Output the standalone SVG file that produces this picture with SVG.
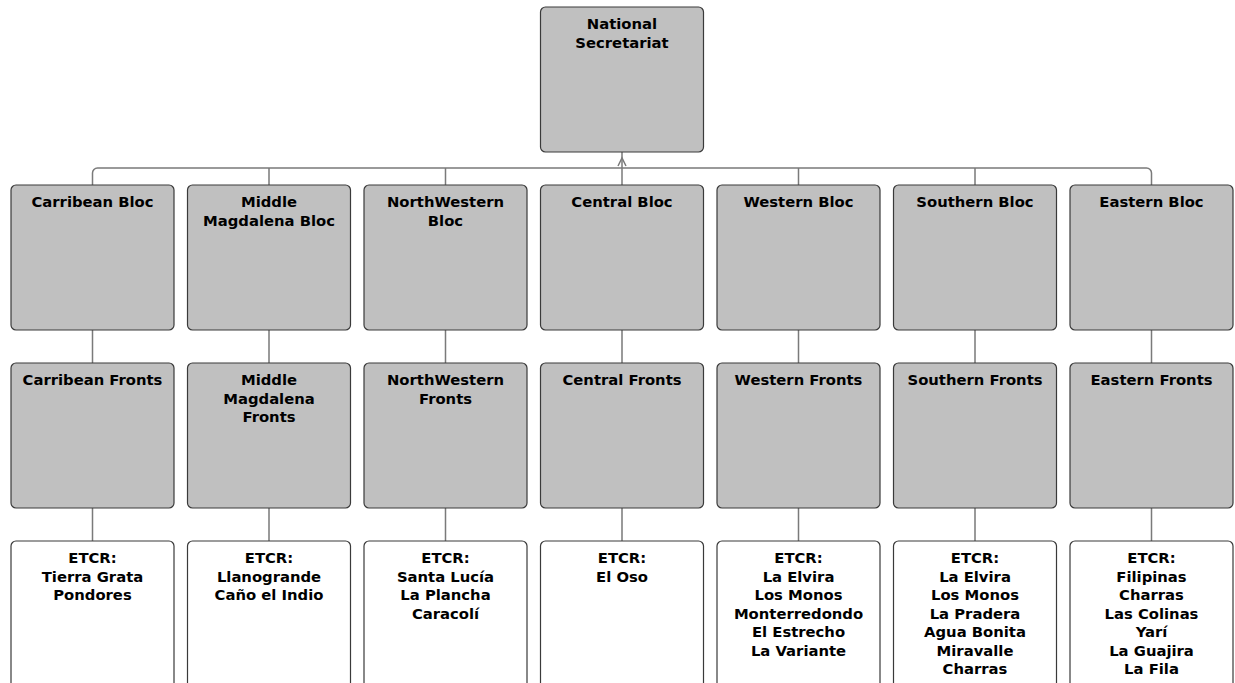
<svg xmlns="http://www.w3.org/2000/svg" width="1235" height="683" viewBox="0 0 1235 683">
<style>
.g{fill:#c0c0c0;stroke:#3a3a3a;stroke-width:1.2}
.w{fill:#ffffff;stroke:#3a3a3a;stroke-width:1.2}
text{font-family:"DejaVu Sans","Liberation Sans",sans-serif;font-weight:bold;font-size:14.8px;fill:#000;text-anchor:middle}
.c{fill:none;stroke:#7a7a7a;stroke-width:1.5}
</style>
<rect width="1235" height="683" fill="#ffffff"/>
<g id="connectors">
<path class="c" d="M622 152V185"/>
<path class="c" d="M92.5 185V173a5 5 0 0 1 5 -5H1146.5a5 5 0 0 1 5 5V185"/>
<path class="c" d="M269 168V185M445.5 168V185M798.5 168V185M975 168V185"/>
<path class="c" d="M618 166L622 158L626 166" stroke-width="1"/>
<path class="c" d="M92.5 330V363M269 330V363M445.5 330V363M622 330V363M798.5 330V363M975 330V363M1151.5 330V363"/>
<path class="c" d="M92.5 508V541M269 508V541M445.5 508V541M622 508V541M798.5 508V541M975 508V541M1151.5 508V541"/>
</g>
<g id="national"><rect class="g" x="540.5" y="7" width="163" height="145" rx="5"/><text x="622" y="29">National</text><text x="622" y="48">Secretariat</text></g>
<g id="bloc1"><rect class="g" x="11" y="185" width="163" height="145" rx="5"/><text x="92.5" y="207">Carribean Bloc</text></g>
<g id="bloc2"><rect class="g" x="187.5" y="185" width="163" height="145" rx="5"/><text x="269" y="207">Middle</text><text x="269" y="225.5">Magdalena Bloc</text></g>
<g id="bloc3"><rect class="g" x="364" y="185" width="163" height="145" rx="5"/><text x="445.5" y="207">NorthWestern</text><text x="445.5" y="225.5">Bloc</text></g>
<g id="bloc4"><rect class="g" x="540.5" y="185" width="163" height="145" rx="5"/><text x="622" y="207">Central Bloc</text></g>
<g id="bloc5"><rect class="g" x="717" y="185" width="163" height="145" rx="5"/><text x="798.5" y="207">Western Bloc</text></g>
<g id="bloc6"><rect class="g" x="893.5" y="185" width="163" height="145" rx="5"/><text x="975" y="207">Southern Bloc</text></g>
<g id="bloc7"><rect class="g" x="1070" y="185" width="163" height="145" rx="5"/><text x="1151.5" y="207">Eastern Bloc</text></g>
<g id="fronts1"><rect class="g" x="11" y="363" width="163" height="145" rx="5"/><text x="92.5" y="385">Carribean Fronts</text></g>
<g id="fronts2"><rect class="g" x="187.5" y="363" width="163" height="145" rx="5"/><text x="269" y="385">Middle</text><text x="269" y="403.5">Magdalena</text><text x="269" y="422">Fronts</text></g>
<g id="fronts3"><rect class="g" x="364" y="363" width="163" height="145" rx="5"/><text x="445.5" y="385">NorthWestern</text><text x="445.5" y="403.5">Fronts</text></g>
<g id="fronts4"><rect class="g" x="540.5" y="363" width="163" height="145" rx="5"/><text x="622" y="385">Central Fronts</text></g>
<g id="fronts5"><rect class="g" x="717" y="363" width="163" height="145" rx="5"/><text x="798.5" y="385">Western Fronts</text></g>
<g id="fronts6"><rect class="g" x="893.5" y="363" width="163" height="145" rx="5"/><text x="975" y="385">Southern Fronts</text></g>
<g id="fronts7"><rect class="g" x="1070" y="363" width="163" height="145" rx="5"/><text x="1151.5" y="385">Eastern Fronts</text></g>
<g id="etcr1"><rect class="w" x="11" y="541" width="163" height="160" rx="5"/><text x="92.5" y="563">ETCR:</text><text x="92.5" y="581.5">Tierra Grata</text><text x="92.5" y="600">Pondores</text></g>
<g id="etcr2"><rect class="w" x="187.5" y="541" width="163" height="160" rx="5"/><text x="269" y="563">ETCR:</text><text x="269" y="581.5">Llanogrande</text><text x="269" y="600">Caño el Indio</text></g>
<g id="etcr3"><rect class="w" x="364" y="541" width="163" height="160" rx="5"/><text x="445.5" y="563">ETCR:</text><text x="445.5" y="581.5">Santa Lucía</text><text x="445.5" y="600">La Plancha</text><text x="445.5" y="618.5">Caracolí</text></g>
<g id="etcr4"><rect class="w" x="540.5" y="541" width="163" height="160" rx="5"/><text x="622" y="563">ETCR:</text><text x="622" y="581.5">El Oso</text></g>
<g id="etcr5"><rect class="w" x="717" y="541" width="163" height="160" rx="5"/><text x="798.5" y="563">ETCR:</text><text x="798.5" y="581.5">La Elvira</text><text x="798.5" y="600">Los Monos</text><text x="798.5" y="618.5">Monterredondo</text><text x="798.5" y="637">El Estrecho</text><text x="798.5" y="655.5">La Variante</text></g>
<g id="etcr6"><rect class="w" x="893.5" y="541" width="163" height="160" rx="5"/><text x="975" y="563">ETCR:</text><text x="975" y="581.5">La Elvira</text><text x="975" y="600">Los Monos</text><text x="975" y="618.5">La Pradera</text><text x="975" y="637">Agua Bonita</text><text x="975" y="655.5">Miravalle</text><text x="975" y="674">Charras</text></g>
<g id="etcr7"><rect class="w" x="1070" y="541" width="163" height="160" rx="5"/><text x="1151.5" y="563">ETCR:</text><text x="1151.5" y="581.5">Filipinas</text><text x="1151.5" y="600">Charras</text><text x="1151.5" y="618.5">Las Colinas</text><text x="1151.5" y="637">Yarí</text><text x="1151.5" y="655.5">La Guajira</text><text x="1151.5" y="674">La Fila</text></g>
</svg>
